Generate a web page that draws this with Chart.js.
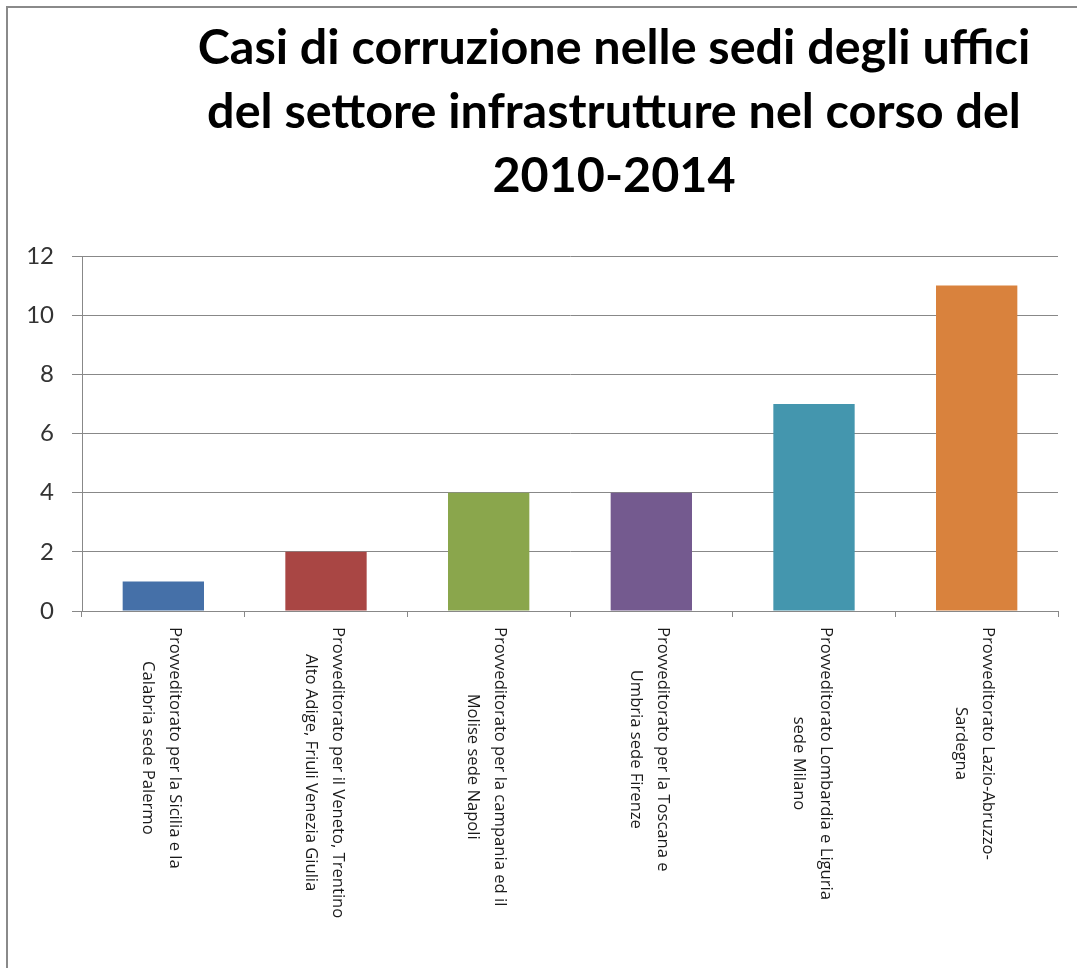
<!DOCTYPE html>
<html><head><meta charset="utf-8">
<script src="https://cdn.jsdelivr.net/npm/chart.js@4/dist/chart.umd.min.js"></script>
<style>
html,body{margin:0;padding:0;background:#fff;overflow:hidden;}
#wrap{position:relative;width:1077px;height:968px;overflow:hidden;}
#frame{position:absolute;left:6px;top:6px;width:1200px;height:1100px;border-left:2px solid #8a8a8a;border-top:2px solid #8a8a8a;pointer-events:none;}
canvas{position:absolute;left:0;top:0;}
</style></head><body>
<div id="wrap"><canvas id="c" width="1077" height="968"></canvas><div id="frame"></div></div>
<script>
const titleLines = [
  "Casi di corruzione nelle sedi degli uffici",
  "del settore infrastrutture nel corso del",
  "2010-2014"
];
const categories = [
  ["Provveditorato per la Sicilia e la", "Calabria sede Palermo"],
  ["Provveditorato per il Veneto, Trentino", "Alto Adige, Friuli Venezia Giulia"],
  ["Provveditorato per la campania ed il", "Molise sede Napoli"],
  ["Provveditorato per la Toscana e", "Umbria sede Firenze"],
  ["Provveditorato Lombardia e Liguria", "sede Milano"],
  ["Provveditorato Lazio-Abruzzo-", "Sardegna"]
];
const values = [1, 2, 4, 4, 7, 11];
const barColors = ["#4570a8", "#a94644", "#8aa64c", "#745a8f", "#4496ae", "#d9823d"];
const yMin = 0, yMax = 12, yStep = 2;

const GRID = "#888888";

const titlePlugin = {
  id: "titleLines",
  afterDraw(chart) {
    const ctx = chart.ctx;
    ctx.save();
    ctx.font = "bold 48.5px Lato";
    ctx.fillStyle = "#000";
    ctx.textAlign = "center";
    ctx.textBaseline = "alphabetic";
    const baselines = [64, 128, 192];
    titleLines.forEach((t, i) => ctx.fillText(t, 614, baselines[i]));
    ctx.restore();
  }
};

const xLabelPlugin = {
  id: "xLabels",
  afterDraw(chart) {
    const ctx = chart.ctx;
    const xs = chart.scales.x;
    ctx.save();
    ctx.font = "16.6px 'Open Sans'";
    ctx.fillStyle = "#1a1a1a";
    categories.forEach((lines, i) => {
      const x = xs.getPixelForValue(i);
      const w = Math.max(...lines.map(l => ctx.measureText(l).width));
      ctx.save();
      ctx.translate(x - 2, xs.top + 16);
      ctx.rotate(Math.PI / 2);
      ctx.textAlign = "center";
      ctx.textBaseline = "middle";
      lines.forEach((l, j) => {
        const yy = (j - (lines.length - 1) / 2) * 27;
        ctx.fillText(l, w / 2, yy);
      });
      ctx.restore();
    });
    ctx.restore();
  }
};

new Chart(document.getElementById("c"), {
  type: "bar",
  data: {
    labels: categories.map(c => c.join(" ")),
    datasets: [{
      data: values,
      backgroundColor: barColors,
      borderWidth: 0,
      barPercentage: 0.5,
      categoryPercentage: 1.0
    }]
  },
  options: {
    responsive: false,
    animation: false,
    devicePixelRatio: 1,
    layout: { padding: { left: 0, top: 256, right: 19, bottom: 0 } },
    plugins: { legend: { display: false }, tooltip: { enabled: false }, title: { display: false } },
    scales: {
      x: {
        offset: true,
        grid: { display: true, drawOnChartArea: false, drawTicks: true, tickLength: 6, color: GRID, offset: true },
        border: { color: GRID, width: 1 },
        ticks: { callback: () => "", maxRotation: 0 },
        afterFit(s) { s.height = 968 - 611; }
      },
      y: {
        min: yMin, max: yMax,
        ticks: { stepSize: yStep, font: { family: "Lato", size: 24 }, color: "#333", padding: 18 },
        grid: { color: GRID, tickLength: 10 },
        border: { color: GRID, width: 1 },
        afterFit(s) { s.width = 82; }
      }
    }
  },
  plugins: [titlePlugin, xLabelPlugin]
});
</script>
</body></html>
